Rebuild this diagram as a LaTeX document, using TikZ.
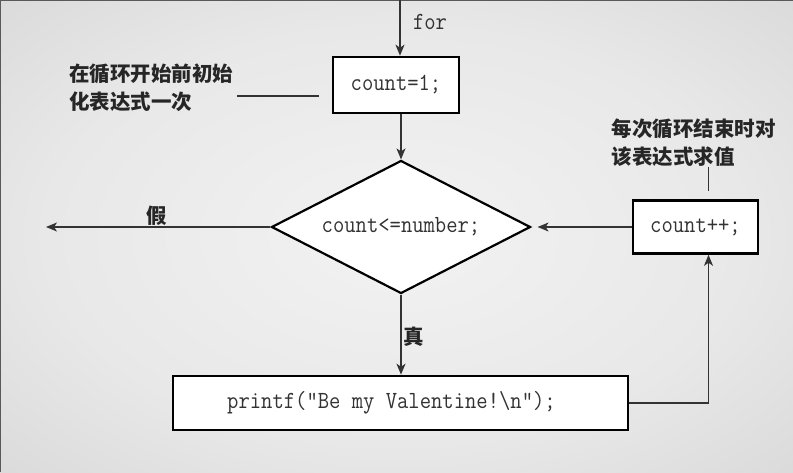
\documentclass[tikz,border=0pt]{standalone}
\usepackage{fontspec}
\usepackage{graphicx}
\newfontfamily\cjk{Noto Sans CJK SC}
\usetikzlibrary{shapes.geometric,arrows.meta}
\pgfdeclareradialshading{bgshade}{\pgfpoint{0bp}{0bp}}{color(0bp)=(black!5); color(22bp)=(black!9); color(50bp)=(black!20); color(72bp)=(black!27)}
\newcommand{\codefont}{\ttfamily\fontsize{22}{26}\selectfont}
\newcommand{\codetxt}[1]{\scalebox{1}[1.12]{#1}}
\newcommand{\notefont}{\cjk\bfseries\fontsize{20.5}{28}\selectfont}
\begin{document}
\begin{tikzpicture}[x=1pt,y=1pt,
  conn/.style={draw=black!80, line width=1.3pt},
  arr/.style={conn, -{Stealth[length=11pt,width=9pt,inset=3pt]}},
  codebox/.style={draw=black, fill=white, line width=2.6pt, font=\codefont, text=black!80, inner sep=1pt},
  note/.style={font=\notefont, text=black!85, align=left, inner sep=0pt},
]
\shade[shading=bgshade] (0,0) rectangle (793,472);
\useasboundingbox (0,0) rectangle (793,472);
\draw[black!65, line width=2pt] (0,0) -- (0,472) -- (793,472);

% nodes
\node[codebox, minimum width=126pt, minimum height=56pt] (c1) at (396,387) {\codetxt{count=1;}};
\node[codebox, diamond, aspect=1.95, minimum width=259pt, minimum height=133pt, line width=2.2pt] (dia) at (401,245) {\codetxt{count<=number;}};
\node[codebox, minimum width=125pt, minimum height=53pt] (c2) at (695.5,245) {\codetxt{count++;}};
\node[codebox, minimum width=455pt, minimum height=54pt] (pr) at (400.5,69) {\codetxt{printf("Be my Valentine!\textbackslash n");}\hspace*{18pt}};

\node[font=\codefont, text=black!80, inner sep=0pt] (forl) at (430,450) {\codetxt{for}};
\node[note] (lab1) at (151,384.5) {在循环开始前初始\\化表达式一次};
\node[note] (lab2) at (693.5,329) {每次循环结束时对\\该表达式求值};
\node[font=\notefont, text=black!85, inner sep=0pt] (jia) at (157,256) {假};
\node[font=\notefont, text=black!85, inner sep=0pt] (zhen) at (414,135) {真};

% coordinates
\coordinate (top) at (400,472);
\coordinate (fend) at (46,245);
\coordinate (l1a) at (237,376);
\coordinate (n2) at (708.5,305);

% connectors
\draw[arr] (top) -- (top |- c1.north);
\draw[arr] (dia.north |- c1.south) -- (dia.north);
\draw[arr] (dia.west) -- (fend);
\draw[arr, shorten >=6pt] (c2.west) -- (dia.east);
\draw[arr] (dia.south) -- (dia.south |- pr.north);
\draw[arr] (pr.east) -| ([xshift=13pt]c2.south);
\draw[conn, shorten >=13pt] (l1a) -- (l1a -| c1.west);
\draw[conn, shorten >=8pt] (n2) -- (n2 |- c2.north);
\end{tikzpicture}
\end{document}
